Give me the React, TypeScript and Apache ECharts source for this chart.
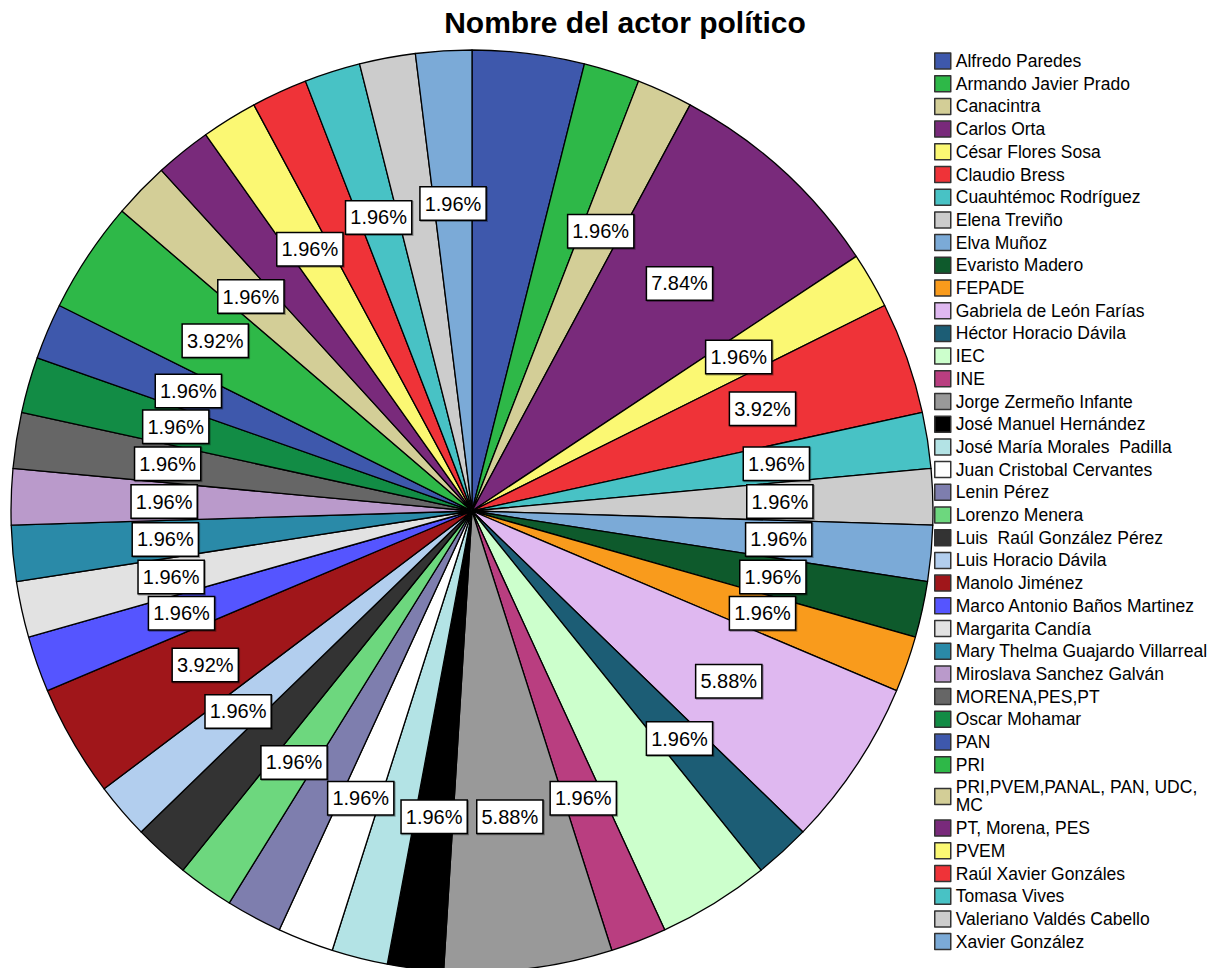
import React, { useEffect, useRef } from "react";
import * as echarts from "echarts";

const actors: string[] = [
  "Alfredo Paredes", "Armando Javier Prado", "Canacintra", "Carlos Orta", "César Flores Sosa",
  "Claudio Bress", "Cuauhtémoc Rodríguez", "Elena Treviño", "Elva Muñoz", "Evaristo Madero",
  "FEPADE", "Gabriela de León Farías", "Héctor Horacio Dávila", "IEC", "INE",
  "Jorge Zermeño Infante", "José Manuel Hernández", "José María Morales  Padilla", "Juan Cristobal Cervantes", "Lenin Pérez",
  "Lorenzo Menera", "Luis  Raúl González Pérez", "Luis Horacio Dávila", "Manolo Jiménez", "Marco Antonio Baños Martinez",
  "Margarita Candía", "Mary Thelma Guajardo Villarreal", "Miroslava Sanchez Galván", "MORENA,PES,PT", "Oscar Mohamar",
  "PAN", "PRI", "PRI,PVEM,PANAL, PAN, UDC, MC", "PT, Morena, PES", "PVEM",
  "Raúl Xavier Gonzáles", "Tomasa Vives", "Valeriano Valdés Cabello", "Xavier González",
];

const counts: number[] = [
  2, 1, 1, 4, 1,
  2, 1, 1, 1, 1,
  1, 3, 1, 2, 1,
  3, 1, 1, 1, 1,
  1, 1, 1, 2, 1,
  1, 1, 1, 1, 1,
  1, 2, 1, 1, 1,
  1, 1, 1, 1,
];

const palette: string[] = [
  "#3E58AC", "#2EB848", "#D3CE97", "#792A7B", "#FBF873",
  "#EF3338", "#48C2C5", "#CCCCCC", "#7BAAD7", "#0E5A2C",
  "#F99B1C", "#DFB8F0", "#1C5D75", "#CCFFCC", "#B93E80",
  "#999999", "#000000", "#B3E3E5", "#FFFFFF", "#7E7EAE",
  "#6DD77E", "#333333", "#B2CEEE", "#A0161A", "#5555FF",
  "#E2E2E2", "#2A8AA8", "#BA9ACB", "#666666", "#128C45",
  "#3E58AC", "#2EB848", "#D3CE97", "#792A7B", "#FBF873",
  "#EF3338", "#48C2C5", "#CCCCCC", "#7BAAD7",
];

const labelled: boolean[] = [
  false, false, true, true, true,
  true, true, true, true, true,
  true, true, true, false, true,
  true, true, false, true, false,
  true, false, true, true, true,
  true, true, true, true, true,
  true, true, true, false, true,
  false, true, false, true,
];

const titleText = "Nombre del actor político";

export default function App() {
  const ref = useRef<HTMLDivElement>(null);
  useEffect(() => {
    if (!ref.current) return;
    const chart = echarts.init(ref.current, null, { renderer: "svg" });
    const total = counts.reduce((a, b) => a + b, 0);
    const font = 'Arial, "Liberation Sans", sans-serif';
    chart.setOption({
      animation: false,
      backgroundColor: "#ffffff",
      title: {
        text: titleText,
        left: 620,
        textAlign: "center",
        top: 2,
        textStyle: { fontFamily: font, fontSize: 30, fontWeight: "bold", color: "#000" },
      },
      legend: {
        orient: "vertical",
        left: 934,
        top: 52,
        padding: 0,
        itemWidth: 16,
        itemHeight: 16,
        itemGap: 4.7,
        selectedMode: false,
        icon: "rect",
        data: actors,
        formatter: (name: string) =>
          name === "PRI,PVEM,PANAL, PAN, UDC, MC" ? "PRI,PVEM,PANAL, PAN, UDC,\nMC" : name,
        itemStyle: { borderColor: "#333", borderWidth: 1.5 },
        textStyle: { fontFamily: font, fontSize: 17.5, lineHeight: 18, color: "#000" },
      },
      series: [
        {
          type: "pie",
          name: "main",
          center: [472, 511],
          radius: [0, 461],
          startAngle: 90,
          clockwise: true,
          avoidLabelOverlap: false,
          label: { show: false },
          labelLine: { show: false },
          itemStyle: { borderColor: "#000", borderWidth: 1.3 },
          emphasis: { disabled: true },
          data: actors.map((n, i) => ({ name: n, value: counts[i], itemStyle: { color: palette[i] } })),
        },
        {
          type: "pie",
          name: "labels",
          center: [472, 511],
          radius: [150, 460],
          startAngle: 90,
          clockwise: true,
          silent: true,
          avoidLabelOverlap: false,
          labelLine: { show: false },
          itemStyle: { color: "rgba(0,0,0,0)", borderWidth: 0 },
          emphasis: { disabled: true },
          label: {
            show: true,
            position: "inside",
            formatter: (p: any) => ((p.value / total) * 100).toFixed(2) + "%",
            fontFamily: font,
            fontSize: 20,
            lineHeight: 22,
            color: "#000",
            backgroundColor: "#fff",
            borderColor: "#000",
            borderWidth: 1.5,
            padding: [5, 4, 5, 4],
            shadowColor: "rgba(0,0,0,0.35)",
            shadowOffsetX: 1,
            shadowOffsetY: 1,
            shadowBlur: 1,
          },
          data: actors.map((n, i) => ({
            name: n,
            value: counts[i],
            label: { show: labelled[i] },
          })),
        },
      ],
    });
    return () => chart.dispose();
  }, []);
  return (
    <div
      ref={ref}
      style={{ position: "absolute", left: 0, top: 0, width: 1232, height: 968 }}
    />
  );
}
